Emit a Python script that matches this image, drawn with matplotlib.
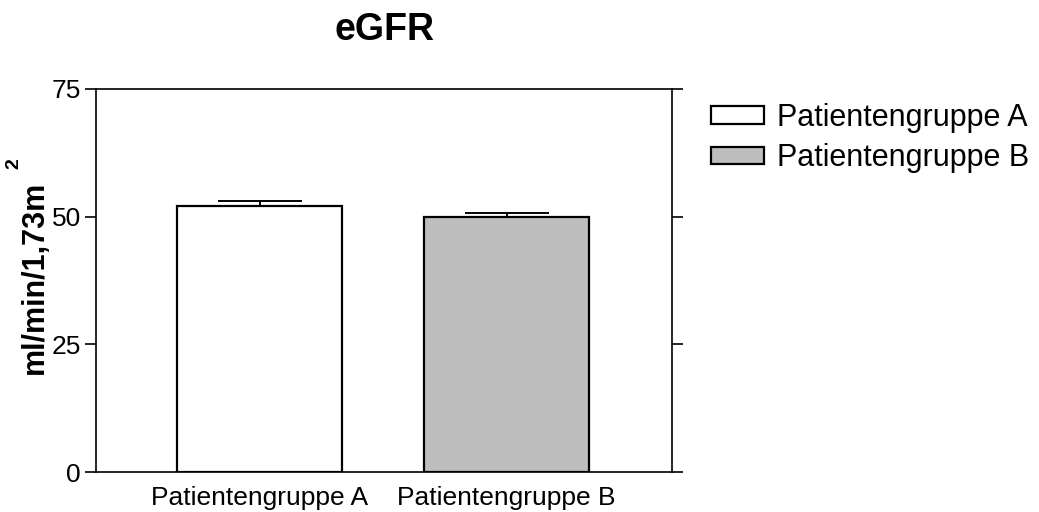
#!/usr/bin/env python3
"""eGFR bar chart for two patient groups, mean with SEM error bars."""

import matplotlib

matplotlib.use("Agg")
import matplotlib.pyplot as plt
from matplotlib.patches import Patch

plt.rcParams["font.family"] = ["Liberation Sans", "DejaVu Sans"]

groups = ["Patientengruppe A", "Patientengruppe B"]
means = [52.1, 50.0]
errors = [0.9, 0.65]
fills = ["#ffffff", "#bebebe"]
yticks = [0, 25, 50, 75]

fig = plt.figure(figsize=(10.39, 5.12), dpi=100)
ax = fig.add_axes([0.0924, 0.0781, 0.5544, 0.7481])

x = list(range(len(groups)))
ax.bar(x, means, width=0.668, color=fills, edgecolor="black", linewidth=1.6, zorder=2)
ax.errorbar(
    x,
    means,
    yerr=[[0] * len(errors), errors],
    fmt="none",
    ecolor="black",
    elinewidth=1.4,
    capsize=30,
    capthick=1.4,
    zorder=3,
)

ax.set_xlim(-0.662, 1.670)
ax.set_ylim(0, 75)
ax.set_yticks(yticks)
ax.set_xticks(x)
ax.set_xticklabels(groups, fontsize=19)
ax.tick_params(axis="y", which="both", left=True, right=True, direction="out",
               length=8, width=1.2, labelsize=19, pad=3)
ax.tick_params(axis="x", length=0, pad=10)
for spine in ax.spines.values():
    spine.set_linewidth(1.2)

ax.set_title("eGFR", fontsize=27, fontweight="bold", pad=35)

fig.text(0.034, 0.458, "ml/min/1,73m", rotation=90, fontsize=22, fontweight="bold",
         ha="center", va="center")
fig.text(0.0135, 1 - 164 / 512, "2", rotation=90, fontsize=14, fontweight="bold",
         ha="center", va="center")

handles = [Patch(facecolor=c, edgecolor="black", linewidth=1.6) for c in fills]
fig.legend(
    handles,
    groups,
    loc="upper left",
    bbox_to_anchor=(711 / 1039, 1 - 103 / 512),
    frameon=False,
    fontsize=22,
    handlelength=1.75,
    handleheight=0.5,
    handletextpad=0.4,
    labelspacing=0.33,
    borderpad=0,
    borderaxespad=0,
)

fig.savefig("out.png", dpi=100)
